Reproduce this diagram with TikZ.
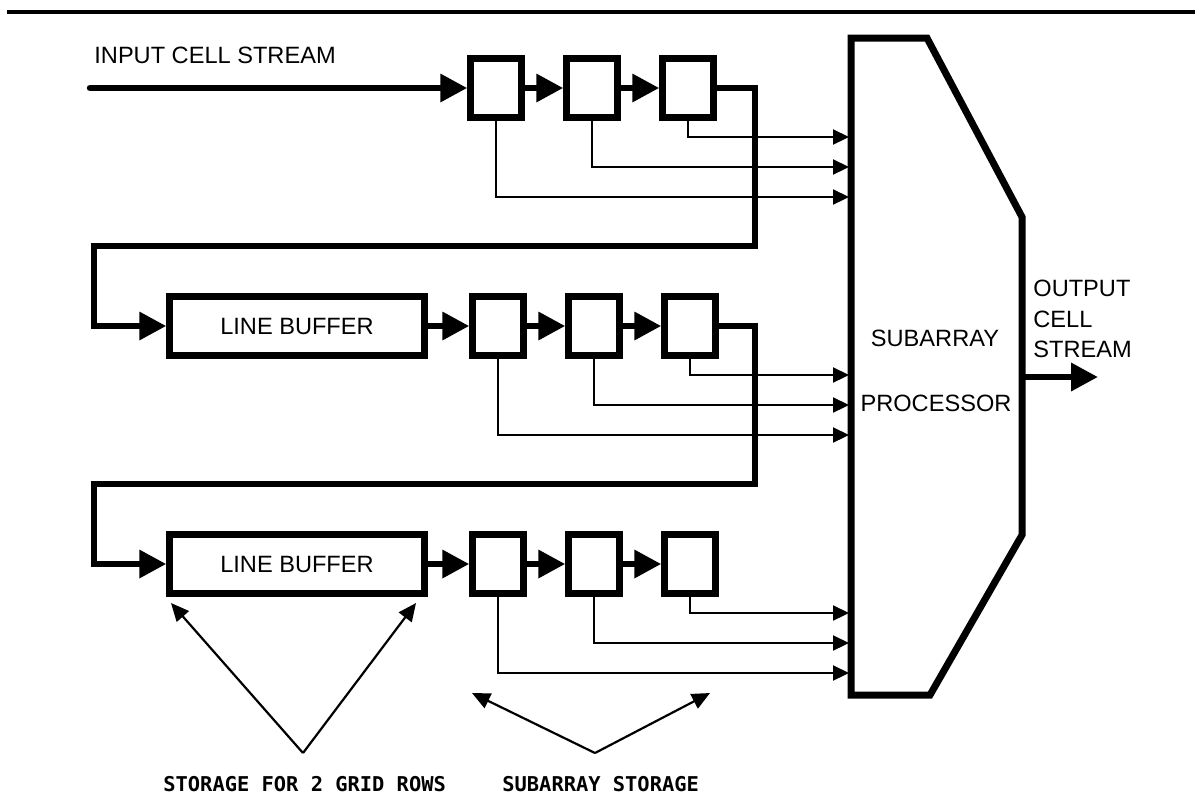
\documentclass[tikz,border=0pt]{standalone}
\usepackage{fontspec}
\setmainfont{Liberation Sans}
\newfontfamily\labelmono{DejaVu Sans Mono}
\usetikzlibrary{arrows.meta}
\begin{document}
\begin{tikzpicture}[x=0.5pt,y=-0.5pt,
  thickline/.style={line width=3.2pt,line join=miter},
  thinline/.style={line width=1.1pt},
  lbl/.style={font=\fontsize{11.8pt}{14pt}\selectfont,inner sep=0pt},
  monolbl/.style={font=\labelmono\bfseries\fontsize{10.2pt}{12pt}\selectfont,inner sep=0pt},
  cell/.style={draw,line width=3.2pt,minimum width=25.5pt,minimum height=29.5pt,inner sep=0pt,lbl},
  linebuf/.style={cell,minimum width=127.5pt},
  bigtip/.style={-{Triangle[length=13.5pt,width=13.5pt]}},
  smalltip/.style={-{Triangle[length=8pt,width=7.5pt]}},
  vtip/.style={-{Triangle[length=9pt,width=8pt]}},
]
\useasboundingbox (0,0) rectangle (1195,794);
\fill[white] (0,0) rectangle (1195,794);

% top rule
\coordinate (ruleL) at (7,12);
\coordinate (ruleR) at (1195,12);
\draw[line width=2pt] (ruleL) -- (ruleR);

% processor
\coordinate (p1) at (851,38);
\coordinate (p2) at (927,38);
\coordinate (p3) at (1022,217);
\coordinate (p4) at (1022,535);
\coordinate (p5) at (930,695);
\coordinate (p6) at (851,695);
\draw[line width=3.5pt,line join=miter] (p1) -- (p2) -- (p3) -- (p4) -- (p5) -- (p6) -- cycle;
\node[lbl] (subtxt) at (935,338) {SUBARRAY};
\node[lbl] (proctxt) at (936,403) {PROCESSOR};

% output
\node[lbl,anchor=west] (out1) at (1033,288) {OUTPUT};
\node[lbl,anchor=west] (out2) at (1033,319) {CELL};
\node[lbl,anchor=west] (out3) at (1033,349) {STREAM};
\coordinate (outA) at (1022,377);
\coordinate (outB) at (1098,377);
\draw[thickline,bigtip] (outA) -- (outB);

% input
\node[lbl,anchor=west] (intxt) at (94,55) {INPUT CELL STREAM};
\coordinate (inS) at (90,88);

% row 1
\node[cell] (a1) at (496,88) {};
\node[cell] (a2) at (592,88) {};
\node[cell] (a3) at (688,88) {};
\draw[thickline,bigtip,line cap=round] (inS) -- (a1.west);
\draw[thickline,bigtip] (a1.east) -- (a2.west);
\draw[thickline,bigtip] (a2.east) -- (a3.west);
\coordinate (pa3) at (849,137);
\coordinate (pa2) at (849,167);
\coordinate (pa1) at (849,197);
\draw[thinline,smalltip] (a3.south) |- (pa3);
\draw[thinline,smalltip] (a2.south) |- (pa2);
\draw[thinline,smalltip] (a1.south) |- (pa1);

% row 2
\node[linebuf] (lb2) at (297,326) {LINE BUFFER};
\node[cell] (b1) at (498,326) {};
\node[cell] (b2) at (594,326) {};
\node[cell] (b3) at (690,326) {};
\coordinate (f1a) at (755,246);
\coordinate (f1b) at (94,246);
\draw[thickline,bigtip] (a3.east) -| (f1a) -- (f1b) |- (lb2.west);
\draw[thickline,bigtip] (lb2.east) -- (b1.west);
\draw[thickline,bigtip] (b1.east) -- (b2.west);
\draw[thickline,bigtip] (b2.east) -- (b3.west);
\coordinate (pb3) at (849,375);
\coordinate (pb2) at (849,405);
\coordinate (pb1) at (849,435);
\draw[thinline,smalltip] (b3.south) |- (pb3);
\draw[thinline,smalltip] (b2.south) |- (pb2);
\draw[thinline,smalltip] (b1.south) |- (pb1);

% row 3
\node[linebuf] (lb3) at (297,564) {LINE BUFFER};
\node[cell] (c1) at (498,564) {};
\node[cell] (c2) at (594,564) {};
\node[cell] (c3) at (690,564) {};
\coordinate (f2a) at (755,484);
\coordinate (f2b) at (94,484);
\draw[thickline,bigtip] (b3.east) -| (f2a) -- (f2b) |- (lb3.west);
\draw[thickline,bigtip] (lb3.east) -- (c1.west);
\draw[thickline,bigtip] (c1.east) -- (c2.west);
\draw[thickline,bigtip] (c2.east) -- (c3.west);
\coordinate (pc3) at (849,613);
\coordinate (pc2) at (849,643);
\coordinate (pc1) at (849,673);
\draw[thinline,smalltip] (c3.south) |- (pc3);
\draw[thinline,smalltip] (c2.south) |- (pc2);
\draw[thinline,smalltip] (c1.south) |- (pc1);

% bottom annotations
\coordinate (v1apex) at (303,753);
\coordinate (v1l) at (171,603);
\coordinate (v1r) at (416,603);
\draw[thinline,vtip] (v1apex) -- (v1l);
\draw[thinline,vtip] (v1apex) -- (v1r);
\coordinate (v2apex) at (595,753);
\coordinate (v2l) at (472,693);
\coordinate (v2r) at (710,693);
\draw[thinline,vtip] (v2apex) -- (v2l);
\draw[thinline,vtip] (v2apex) -- (v2r);
\node[monolbl,anchor=west] (st1) at (163,784) {STORAGE FOR 2 GRID ROWS};
\node[monolbl,anchor=west] (st2) at (502,784) {SUBARRAY STORAGE};
\end{tikzpicture}
\end{document}
